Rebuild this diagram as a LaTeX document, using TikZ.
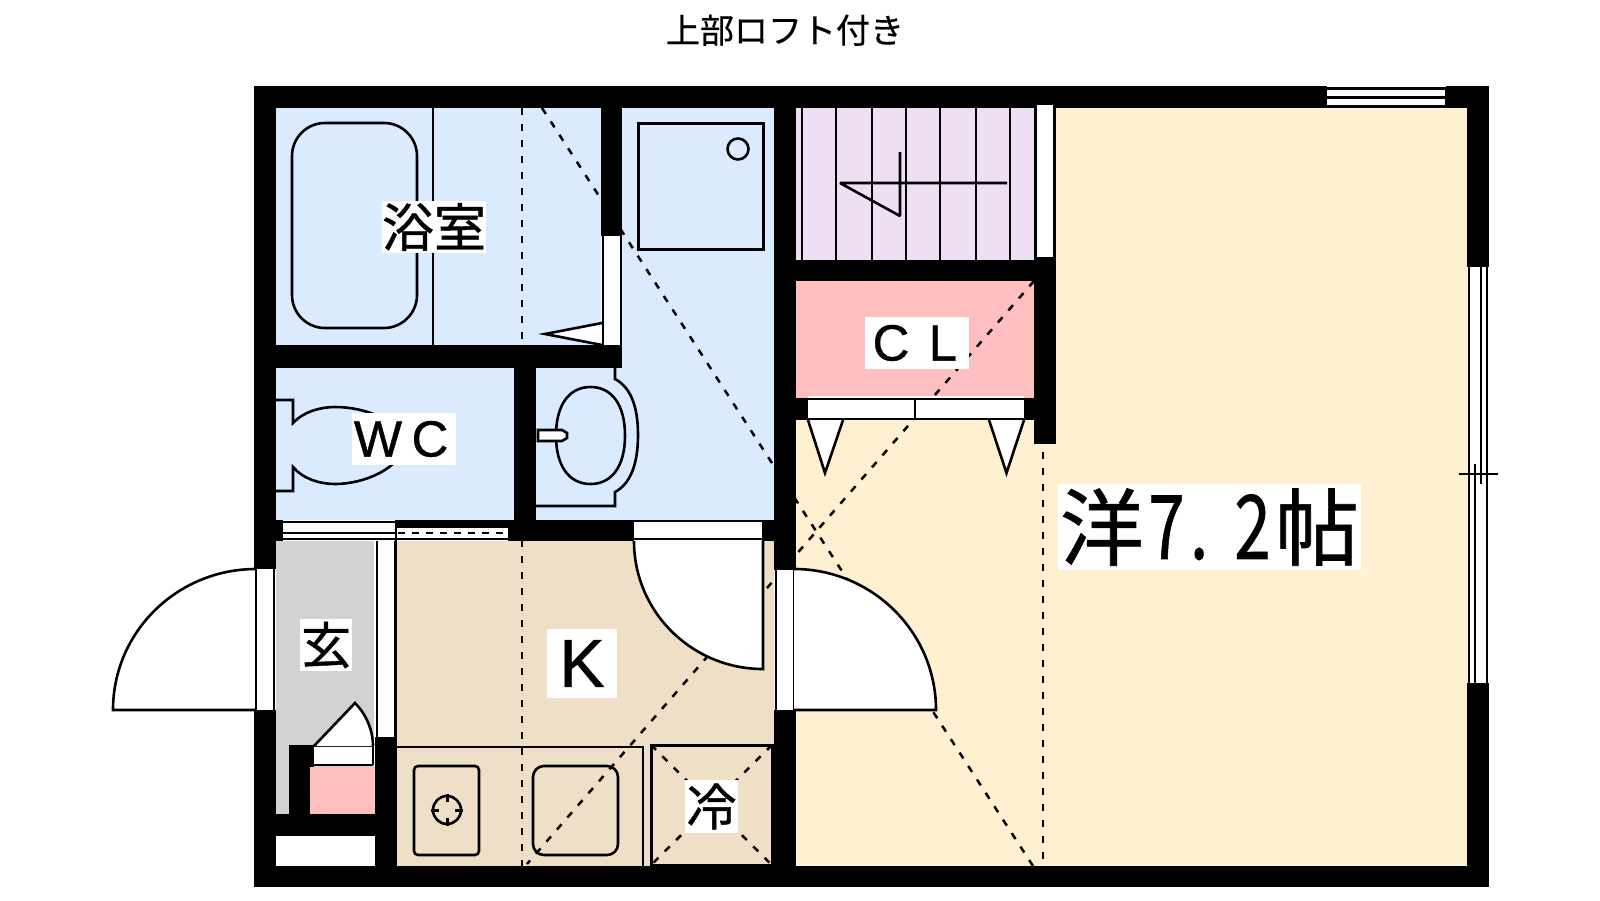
\documentclass[tikz,border=0pt]{standalone}
\usepackage{fontspec}
\usepackage{graphicx}
\setmainfont[FakeBold=0.6]{Liberation Sans}
\newfontfamily\latn[FakeBold=0.8]{Liberation Sans}
\newfontfamily\cjk[FakeBold=0.8]{Noto Sans CJK JP}
\newfontfamily\cjkt[FakeBold=0.4]{Noto Sans CJK JP}
\definecolor{bluef}{HTML}{DBEBFF}
\definecolor{kitf}{HTML}{EFDFC7}
\definecolor{roomf}{HTML}{FEF0D0}
\definecolor{pinkf}{HTML}{FFBFBF}
\definecolor{purf}{HTML}{EEDFF5}
\definecolor{greyf}{HTML}{D2D2D2}
\newcommand{\fs}[1]{\fontsize{#1}{#1}\selectfont}
\newcommand{\hw}[1]{\hbox to 43pt{\hss\scalebox{0.78}[1.06]{#1}\hss}}
\tikzset{
  wall/.style={fill=black},
  ln/.style={draw=black,line width=2.6pt},
  fixture/.style={draw=black,line width=2.6pt,fill=white,line join=miter},
  dsh/.style={draw=black,line width=2.5pt,dash pattern=on 7pt off 9pt},
  lab/.style={fill=white,inner sep=0pt,outer sep=0pt,anchor=center,align=center},
}
\begin{document}
\begin{tikzpicture}[x=1pt,y=-1pt]
\useasboundingbox (0,0) rectangle (1600,900);
\fill[white] (0,0) rectangle (1600,900);
% floors
\fill[bluef] (276,108) rectangle (601,345);
\fill[bluef] (622,108) rectangle (774,520);
\fill[bluef] (536,368) rectangle (622,520);
\fill[bluef] (276,368) rectangle (514,520);
\fill[greyf] (276,541) rectangle (374,814);
\fill[kitf] (397,541) rectangle (774,866);
\fill[roomf] (796,420) rectangle (1467,866);
\fill[roomf] (1056,108) rectangle (1467,866);
\fill[purf] (796,108) rectangle (1034,260);
\fill[pinkf] (796,281) rectangle (1034,398);
\fill[pinkf] (310,767) rectangle (375,814);
% stairs
\foreach \sx in {802,836,872,906,940,976,1010}{\draw[ln] (\sx,108) -- (\sx,260);}
\draw[ln,line join=bevel] (1007,183) -- (840,183) -- (900,216) -- (900,152);
% bath fixtures
\draw[ln,rounded corners=33pt] (292,123) rectangle (417,328);
\draw[ln] (433,108) -- (433,345);
\draw[draw=black,line width=3pt] (638,123) rectangle (763,249);
\draw[ln] (738,149) circle[radius=10.5];
\draw[fixture] (602,323) -- (545,334) -- (602,345);
% sink
\draw[ln] (536,506) -- (615,506) -- (615,492) .. controls (630,484) and (638,465) .. (638,435) .. controls (638,405) and (630,387) .. (615,379) -- (615,368);
\draw[ln] (590.5,387) .. controls (612,387) and (625,405) .. (625,435.5) .. controls (625,466) and (612,484) .. (590.5,484) .. controls (569,484) and (556,466) .. (556,435.5) .. controls (556,405) and (569,387) .. (590.5,387) -- cycle;
\draw[fixture] (538,430) -- (562,430) -- (567,433) -- (567,438) -- (562,441) -- (538,441) -- cycle;
% toilet
\draw[ln] (276,400) -- (293,400) -- (293,423) .. controls (303,412) and (320,407) .. (335,407) .. controls (365,407) and (400,420) .. (405,445) .. controls (400,468) and (365,484) .. (335,484) .. controls (320,484) and (303,479) .. (293,467) -- (293,491) -- (276,491);
% counter
\draw[ln] (397,747) -- (643,747) -- (643,866);
\draw[draw=black,line width=3pt] (651,745) rectangle (772,865);
\draw[ln,rounded corners=4pt] (414,766) rectangle (479,855);
\draw[ln] (447,810) circle[radius=14];
\draw[ln,line width=3pt] (447,794) -- (447,802) (447,818) -- (447,826) (431,810) -- (439,810) (455,810) -- (463,810);
\draw[ln,rounded corners=11pt] (533,766) rectangle (618,855);
% dashed guide lines
\draw[dsh] (522,108) -- (522,866);
\draw[dsh] (1043,452) -- (1043,860);
\draw[dsh] (542,108) -- (1033,866);
\draw[dsh] (1034,281) -- (527,864);
\draw[dsh] (651,745) -- (772,865);
\draw[dsh] (772,745) -- (651,865);
% walls
\fill[wall] (254,86) rectangle (1489,108);
\fill[wall] (254,86) rectangle (276,569);
\fill[wall] (254,710) rectangle (276,887);
\fill[wall] (254,866) rectangle (1489,887);
\fill[wall] (1467,86) rectangle (1489,267);
\fill[wall] (1467,683) rectangle (1489,887);
\fill[wall] (254,345) rectangle (622,368);
\fill[wall] (601,108) rectangle (622,236);
\fill[wall] (514,368) rectangle (536,520);
\fill[wall] (254,520) rectangle (283,541);
\fill[wall] (508,520) rectangle (634,541);
\fill[wall] (762,520) rectangle (796,541);
\fill[wall] (774,108) rectangle (796,570);
\fill[wall] (774,710) rectangle (796,866);
\fill[wall] (796,260) rectangle (1056,281);
\fill[wall] (1034,257) rectangle (1056,444);
\fill[wall] (796,398) rectangle (808,420);
\fill[wall] (1024,398) rectangle (1034,420);
\fill[wall] (289,745) rectangle (314,767);
\fill[wall] (289,745) rectangle (310,814);
\fill[wall] (276,814) rectangle (397,836);
\fill[wall] (375,737) rectangle (397,866);
\fill[white] (276,836) rectangle (375,866);
% bath pocket door
\fill[white] (602,236) rectangle (621,345);
\draw[ln] (603,236) -- (603,345);
\draw[ln] (621,236) -- (621,345);
% stair pocket door
\fill[white] (1035,105) rectangle (1055,257);
\draw[ln] (1035.5,105) -- (1035.5,258) -- (1054.5,258) -- (1054.5,105);
% WC sliding door
\fill[white] (283,520) rectangle (396,541);
\fill[white] (396,528) rectangle (508,539);
\fill[black] (396,520) rectangle (508,528);
\draw[draw=black,line width=1.5pt] (283,522) -- (396,522);
\draw[ln] (283,533) -- (396,533);
\draw[ln] (283,539) -- (508,539);
\draw[ln] (396,520) -- (396,541);
\draw[ln,dash pattern=on 7pt off 7pt] (398,533) -- (508,533);
% genkan partition
\fill[white] (374,541) rectangle (396,737);
\draw[ln] (377,541) -- (377,737);
\draw[ln] (395.5,541) -- (395.5,737);
% entry door
\fill[white] (256,569) rectangle (276,710);
\draw[ln] (256,569) -- (256,710);
\draw[ln] (274,569) -- (274,710);
\draw[ln] (256,569) .. controls (177,569) and (113,632) .. (113,710) -- (256,710);
% kitchen door opening
\path[fill=white,draw=black,line width=2.6pt] (634,541) .. controls (634,612) and (692,669) .. (763,669) -- (763,541);
\fill[white] (634,520) rectangle (762,541);
\draw[draw=black,line width=1.5pt] (634,521) -- (762,521);
\draw[ln] (634,539) -- (762,539);
% room door
\fill[white] (776,570) rectangle (796,710);
\draw[ln] (776,570) -- (776,710);
\draw[ln] (794,570) -- (794,710);
\path[fill=white,draw=black,line width=2.6pt] (794,569) .. controls (872,569) and (936,632) .. (936,710) -- (794,710);
% closet doors
\fill[white] (808,396) rectangle (1024,420);
\draw[ln] (808,399) -- (1024,399);
\draw[ln] (808,419) -- (1024,419);
\draw[ln] (915,399) -- (915,419);
\draw[fixture] (808,420) -- (825,473) -- (843,420);
\draw[fixture] (989,420) -- (1006.5,473) -- (1024,420);
% shoe cupboard door
\fill[white] (314,746) rectangle (373,765);
\draw[ln] (314,746) -- (374,746);
\draw[ln] (314,765) -- (373,765);
\draw[ln] (373,746) -- (373,765);
\path[fill=white,draw=black,line width=2.6pt] (314,746) -- (355,703) .. controls (366,714) and (373,730) .. (373,746);
% top window
\fill[white] (1327,86) rectangle (1446,109);
\draw[ln] (1327,88.5) -- (1446,88.5);
\draw[ln,line width=3pt] (1327,97.5) -- (1446,97.5);
\draw[ln] (1327,106.5) -- (1446,106.5);
\draw[ln] (1446,88) -- (1446,107);
% right window
\fill[white] (1467,267) rectangle (1489,683);
\draw[ln] (1469,267) -- (1469,683);
\draw[ln] (1487,267) -- (1487,683);
\draw[ln] (1481,267) -- (1481,484);
\draw[ln] (1475,464) -- (1475,683);
\draw[ln] (1459,474) -- (1498,474);
% labels
\node[lab,minimum width=240pt,fill=none,text height=26pt,text depth=4pt] (title) at (785,32) {\cjkt\fs{34}上部ロフト付き};
\node[lab,minimum width=104pt,minimum height=52pt] (bath) at (434,227) {\cjk\fs{52}浴室};
\node[lab,minimum width=104pt,minimum height=52pt] (wc) at (404,439) {\latn\fs{51}\hbox to 52pt{\hss W\hss}\hbox to 52pt{\hss C\hss}};
\node[lab,minimum width=104pt,minimum height=52pt] (cl) at (917,343) {\latn\fs{51}\hbox to 52pt{\hss C\hss}\hbox to 52pt{\hss L\hss}};
\node[lab,minimum width=52pt,minimum height=52pt] (gen) at (326,645) {\cjk\fs{50}玄};
\node[lab,minimum width=70pt,minimum height=69pt] (kit) at (582,663.5) {\latn\fs{68}K};
\node[lab,minimum width=53pt,minimum height=53pt] (rei) at (711.5,806.5) {\cjk\fs{50}冷};
\node[lab,minimum width=303pt,minimum height=86pt] (room) at (1209.5,527) {\cjk\fs{84}\hbox to 86pt{\hss 洋\hss}\hw{7}\hbox to 43pt{\hskip 2pt\scalebox{0.78}[1.06]{.}\hss}\hw{2}\hbox to 86pt{\hss 帖\hss}};
\end{tikzpicture}
\end{document}
